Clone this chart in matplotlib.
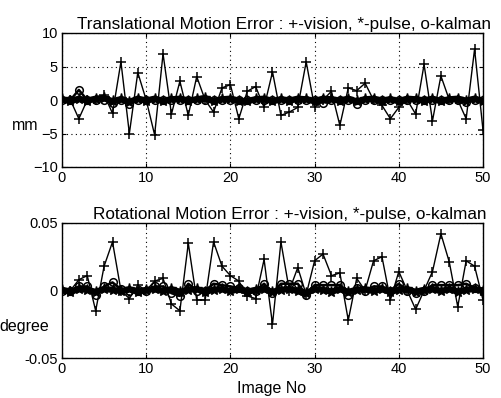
import matplotlib
matplotlib.use("Agg")
import matplotlib.pyplot as plt
import numpy as np

plt.rcParams['font.family'] = ['Liberation Sans', 'DejaVu Sans']

image_no = list(range(0, 51))

# Translational motion error (mm)
trans_vision = [0, 0, -2.8, 0, 0, 0.8, -2.0, 5.7, -5.0, 4.1, 0, -5.2, 6.9, -2.1, 2.8, -2.3,
                3.5, 0, -1.8, 1.8, 2.3, -2.8, 1.3, 2.0, -1.1, 4.2, -2.3, -1.8, -1.1, 5.7,
                -1.1, 0, 1.3, -3.8, 1.8, 1.4, 2.5, 0, -0.8, -2.8, -1.1, 0, -2.1, 5.3, -3.1,
                3.6, 0, 0, -2.8, 7.6, -4.5]
trans_pulse = [0.1, -0.2, 0.2, -0.1, 0.2, 0.3, -0.2, 0.1, -0.3, 0.2, -0.1, 0.2, -0.2, 0.1,
               0.2, -0.1, 0.1, 0.3, -0.2, 0.1, 0.2, -0.1, -0.2, 0.1, 0.2, -0.2, 0.1, -0.1,
               0.2, 0.1, -0.2, 0.2, 0.1, -0.1, 0.2, -0.2, 0.1, 0.2, -0.1, 0.1, -0.2, 0.2,
               0.1, -0.1, 0.2, -0.2, 0.1, 0.2, -0.1, 0.2, -0.2]
trans_kalman = [0, 0, 1.5, 0, 0, 0, -0.5, 0, -0.6, 0, 0, 0, 0, 0, 0, 0, 0, 0, 0, 0, 0, 0,
                0, 0, 0, 0, 0, 0, 0, 0, 0, -0.4, 0, 0, 0, -0.6, 0, 0, 0, 0, 0, 0, 0, 0, 0,
                0, 0, 0, -0.3, 0, 0]

# Rotational motion error (degree)
rot_vision = [0, 0, 0.008, 0.011, -0.015, 0.018, 0.036, 0, -0.006, 0.004, 0, 0.007, 0.009,
              -0.010, -0.015, 0.035, -0.007, -0.007, 0.036, 0.018, 0.011, 0.007, -0.004,
              -0.006, 0.023, -0.025, 0.036, 0, 0.017, -0.003, 0.022, 0.027, 0.011, 0.013,
              -0.022, 0.009, 0, 0.022, 0.025, -0.007, 0.014, 0, -0.014, 0, 0.014, 0.042,
              0.021, -0.012, 0.022, 0.018, -0.007]
rot_pulse = [0.0005, -0.001, 0.001, 0.0005, -0.001, 0.001, 0.0005, -0.0005, 0.001, -0.001,
             0.0005, 0.001, -0.0005, 0.001, -0.001, 0.0005, 0.001, -0.001, 0.0005, 0.001,
             -0.0005, 0.001, -0.001, 0.0005, 0.001, -0.001, 0.0005, 0.001, -0.0005, -0.002,
             0.001, 0.0005, -0.001, 0.001, -0.001, 0.0005, 0.001, -0.0005, 0.001, -0.001,
             0.0005, 0.001, -0.001, 0.0005, 0.001, -0.0005, 0.001, -0.001, 0.0005, 0.001, 0]
rot_kalman = [0, 0, 0.003, 0.003, -0.003, 0.003, 0.006, 0.001, 0, 0, 0, 0.003, 0.003, -0.002,
              -0.004, 0.005, 0, 0, 0.005, 0.004, 0.003, 0.002, 0, 0, 0.005, -0.002, 0.005,
              0.005, 0.005, -0.003, 0.004, 0.004, 0.004, 0.004, -0.003, 0.002, 0, 0.003,
              0.003, 0, 0.005, 0, -0.002, 0, 0.004, 0.004, 0.004, 0.004, 0.005, 0.002, 0]

x_ticks = [0, 10, 20, 30, 40, 50]
trans_yticks = [-10, -5, 0, 5, 10]
rot_yticks = [-0.05, 0, 0.05]
rot_yticklabels = ['-0.05', '0', '0.05']

fig = plt.figure(figsize=(5.02, 3.98), dpi=100)
ax1 = fig.add_axes([62 / 502, 1 - 167 / 398, 421 / 502, 134 / 398])
ax2 = fig.add_axes([62 / 502, 1 - 358 / 398, 421 / 502, 135 / 398])


def draw(ax, vision, pulse, kalman):
    ax.plot(image_no, pulse, color='black', linewidth=4.5, marker='*',
            markersize=8, zorder=3)
    ax.plot(image_no, kalman, color='black', linewidth=1.8, marker='o',
            markersize=5.5, markerfacecolor='none', markeredgewidth=1.1, zorder=4)
    ax.plot(image_no, vision, color='black', linewidth=1.0, marker='+',
            markersize=6.5, markeredgewidth=1.1, zorder=5)
    ax.set_xlim(0, 50)
    ax.set_xticks(x_ticks)
    ax.grid(True, color='black', linestyle=(0, (1, 3)), linewidth=0.8)
    ax.tick_params(direction='in', length=3, width=0.8, top=True, right=True,
                   labelsize=10.5, pad=3)
    for s in ax.spines.values():
        s.set_linewidth(1.0)


draw(ax1, trans_vision, trans_pulse, trans_kalman)
ax1.set_ylim(-10, 10)
ax1.set_yticks(trans_yticks)
ax1.set_title('Translational Motion Error : +-vision, *-pulse, o-kalman',
              fontsize=12.3, pad=3, x=0.527)

draw(ax2, rot_vision, rot_pulse, rot_kalman)
ax2.set_ylim(-0.05, 0.05)
ax2.set_yticks(rot_yticks)
ax2.set_yticklabels(rot_yticklabels)
ax2.set_title('Rotational Motion Error : +-vision, *-pulse, o-kalman',
              fontsize=12.3, pad=3, x=0.54)

fig.text(25 / 502, 1 - 125 / 398, 'mm', fontsize=11.5, ha='center', va='center')
fig.text(24 / 502, 1 - 326 / 398, 'degree', fontsize=11.5, ha='center', va='center')
fig.text(272 / 502, 1 - 389 / 398, 'Image No', fontsize=11.5, ha='center', va='center')

fig.savefig('out.png', dpi=100)
